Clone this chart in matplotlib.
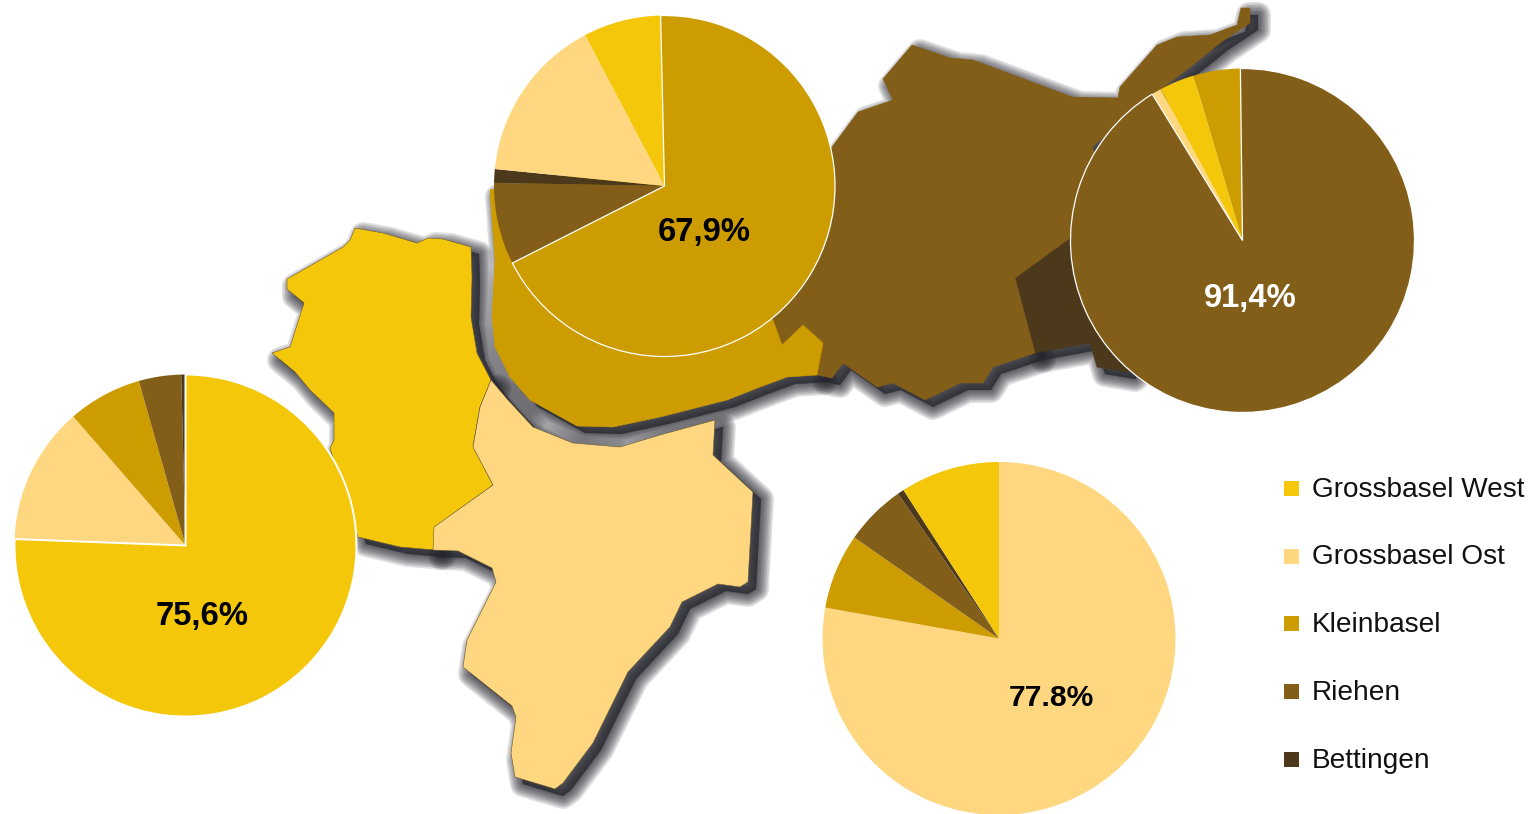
import matplotlib
matplotlib.use("Agg")
import matplotlib.pyplot as plt
from matplotlib.patches import Polygon, Rectangle

plt.rcParams['font.family'] = ['Liberation Sans', 'DejaVu Sans']

W, H = 1531, 814

regions = ["Grossbasel West", "Grossbasel Ost", "Kleinbasel", "Riehen", "Bettingen"]
colors = ["#F4C70A", "#FED780", "#CC9C00", "#825E18", "#4C391C"]

# pie shares, in drawing order clockwise from 12 o'clock (index into regions)
west_order = [0, 1, 2, 3, 4]
west_vals = [75.6, 13.0, 7.0, 4.0, 0.4]
klein_order = [2, 3, 4, 1, 0]
klein_vals = [67.9, 7.75, 1.3, 15.7, 7.35]
riehen_order = [3, 1, 0, 2]
riehen_vals = [91.4, 0.9, 3.3, 4.4]
ost_order = [1, 2, 3, 4, 0]
ost_vals = [77.8, 6.9, 5.6, 0.6, 9.1]

pct_labels = ["75,6%", "67,9%", "91,4%", "77.8%"]

# map outlines (pixel positions)
shape_west = [(355,228),(383,233),(417,243),(428,238),(443,239),(471,247),(472,277),(471,317),(477,353),
              (491,380),(480,407),(473,446),(493,485),(435,527),(435,550),(400,547),(358,537),(345,500),
              (330,448),(334,440),(334,413),(310,390),(295,372),(272,353),(290,347),(304,303),(287,289),
              (287,279),(343,247),(350,240)]
shape_ost = [(491,380),(508,400),(533,427),(573,443),(620,447),(660,435),(715,420),(713,455),(753,492),
             (748,582),(740,587),(718,584),(682,602),(670,627),(628,672),(593,743),(563,783),(555,789),
             (515,777),(511,753),(516,717),(512,706),(463,667),(467,640),(496,582),(492,568),(458,551),
             (433,550),(434,527),(493,485),(473,447),(480,407)]
shape_klein = [(490,190),(495,260),(492,317),(495,347),(510,377),(530,400),(577,426),(613,427),(660,417),
               (727,400),(760,387),(787,377),(817,375),(823,343),(803,325),(782,345),(773,320),(720,200),(600,170)]
shape_riehen = [(912,45),(950,58),(973,60),(1072,97),(1118,98),(1120,87),(1157,45),(1177,37),(1210,35),
                (1237,25),(1241,8),(1250,8),(1250,23),(1220,43),(1190,67),(1160,90),(1115,128),(1092,147),
                (1100,165),(1090,225),(1070,238),(1015,278),(1035,353),(993,367),(983,383),(960,383),(925,400),
                (893,383),(877,387),(843,363),(832,378),(817,375),(823,343),(803,325),(782,345),(773,320),
                (800,250),(832,147),(858,112),(893,100),(883,79)]
shape_bett = [(1070,238),(1015,278),(1035,353),(1090,343),(1097,367),(1127,372),(1160,340),(1150,260)]

pie_centers = [(185.5,545.5),(664.5,186),(1242.5,240.5),(999,638.5)]
pie_radii = [171,170.5,172,176.5]
pie_starts = [90, 91.3, 90.7, 90]
pie_edges = [1.4, 0.9, 0.9, 0]
label_pos = [(202,616),(704.5,233),(1250,299),(1051,698)]
label_sizes = [23.6,23.6,23.6,21.6]
label_colors = ["black","black","white","black"]

legend_y = [488.5,556,623.5,691,759]

fig = plt.figure(figsize=(W/100, H/100), dpi=100, facecolor="white")
ax = fig.add_axes([0, 0, 1, 1])


def up(pts, dx=0, dy=0):
    return [(x+dx, H-(y+dy)) for x, y in pts]


shapes = [(shape_bett, 4), (shape_riehen, 3), (shape_klein, 2), (shape_west, 0), (shape_ost, 1)]

# soft drop shadows, one stack per region
for pts, _ in shapes:
    for lw in [26, 23, 20, 17, 14, 11, 8, 5, 2]:
        ax.add_patch(Polygon(up(pts, 8, 7), closed=True, fc="#24242c", ec="#24242c", lw=lw*0.72,
                             alpha=0.13, joinstyle="round", zorder=1))
# region fills
for pts, idx in shapes:
    ax.add_patch(Polygon(up(pts), closed=True, fc=colors[idx], ec="#6a5a30" if idx in (0, 1) else colors[idx],
                         lw=0.4, zorder=2, joinstyle="round"))

# pies
series = [(west_vals, west_order), (klein_vals, klein_order), (riehen_vals, riehen_order), (ost_vals, ost_order)]
for (vals, order), (cx, cy), r, st, e in zip(series, pie_centers, pie_radii, pie_starts, pie_edges):
    wedges, _ = ax.pie(vals, colors=[colors[i] for i in order], startangle=st, counterclock=False,
                       center=(cx, H-cy), radius=r, frame=True, wedgeprops=dict(lw=0))
    for w in wedges:
        w.set_zorder(3)
    if e:
        wedges[0].set_edgecolor("white")
        wedges[0].set_linewidth(e)
        wedges[0].set_zorder(4)

for s, (x, y), fs, c in zip(pct_labels, label_pos, label_sizes, label_colors):
    ax.text(x, H-y, s, ha="center", va="center", fontsize=fs, fontweight="bold", color=c, zorder=6)

# legend
for name, c, y in zip(regions, colors, legend_y):
    ax.add_patch(Rectangle((1284, H-y-7.5), 15, 15, fc=c, ec="none", zorder=5))
    ax.text(1312, H-y+1.5, name, ha="left", va="center_baseline", fontsize=20.2, color="#111111", zorder=6)

ax.set_xlim(0, W)
ax.set_ylim(0, H)
ax.set_aspect("auto")
ax.axis("off")
fig.savefig("out.png", dpi=100, facecolor="white")
